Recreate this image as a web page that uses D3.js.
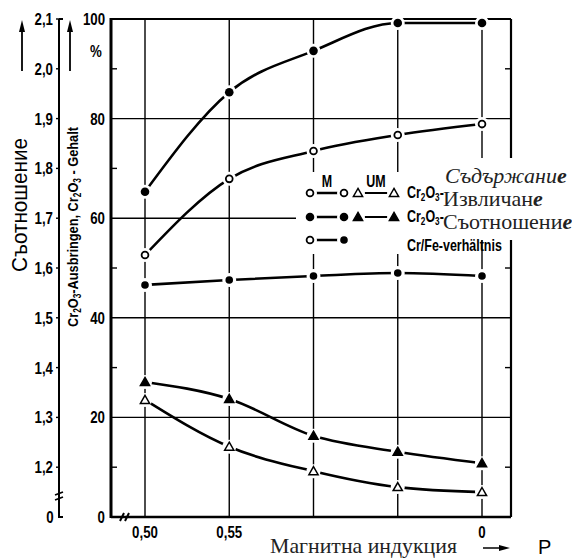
<!DOCTYPE html>
<html>
<head>
<meta charset="utf-8">
<script src="https://cdn.jsdelivr.net/npm/d3@7/dist/d3.min.js"></script>
<style>
  html, body { margin: 0; padding: 0; background: #fff; }
  svg { display: block; }
</style>
</head>
<body>
<svg id="chart" width="572" height="558"></svg>
<script>
// ---- data ----
const xLabels = ["0,50", "0,55", "", "", "0"];
const pctTicks = [0, 20, 40, 60, 80, 100];
const pctMinor = [10, 30, 50, 70, 90];
const ratioTicks = [1.2, 1.3, 1.4, 1.5, 1.6, 1.7, 1.8, 1.9, 2.0, 2.1];
const gehaltM = [52.6, 67.9, 73.5, 76.7, 78.9];        // open circles (%)
const ausbringenM = [65.3, 85.3, 93.6, 99.2, 99.2];    // filled circles (%)
const ratioCrFe = [1.566, 1.576, 1.584, 1.590, 1.584]; // Cr/Fe ratio
const ausbringenUM = [27.1, 23.7, 16.3, 13.1, 10.8];   // filled triangles (%)
const gehaltUM = [23.5, 14.1, 9.2, 6.0, 5.0];          // open triangles (%)

const svg = d3.select("#chart");
const L = 111, R = 511, T = 19, B = 517;
const x = d3.scaleLinear().domain([0, 4]).range([145, 482]);
const y = d3.scaleLinear().domain([0, 100]).range([B, T]);
const yr = d3.scaleLinear().domain([1.1, 2.1]).range([B, T]);
const idx = d3.range(xLabels.length);
const sansFont = "'Liberation Sans',Arial,sans-serif";
const serifFont = "'Liberation Serif','Times New Roman',serif";

// narrow bold text helper (condensed look via horizontal scale)
function ntext(sel, tx, ty, anchor, size) {
  return sel.append("text").attr("transform", `translate(${tx},${ty}) scale(0.78,1)`)
    .attr("text-anchor", anchor).attr("font-family", sansFont).attr("font-weight", "bold")
    .attr("font-size", size).attr("fill", "#000");
}
function crO(t, sub) {
  t.append("tspan").text("Cr");
  t.append("tspan").attr("font-size", sub).attr("dy", 3).text("2");
  t.append("tspan").attr("dy", -3).text("O");
  t.append("tspan").attr("font-size", sub).attr("dy", 3).text("3");
  return t.append("tspan").attr("dy", -3);
}

// grid
const g = svg.append("g").attr("stroke", "#000").attr("stroke-width", 1.4);
idx.forEach(i => g.append("line").attr("x1", x(i)).attr("x2", x(i)).attr("y1", T).attr("y2", B));
pctTicks.slice(1, 5).forEach(v => g.append("line").attr("x1", L).attr("x2", R).attr("y1", y(v)).attr("y2", y(v)));
pctMinor.forEach(v => {
  g.append("line").attr("x1", L).attr("x2", L + 6).attr("y1", y(v)).attr("y2", y(v));
  g.append("line").attr("x1", R - 6).attr("x2", R).attr("y1", y(v)).attr("y2", y(v));
});

// curves
const line = d3.line().x((d, i) => x(i)).y(d => d).curve(d3.curveMonotoneX);
const series = [
  { vals: ausbringenM.map(v => y(v)), type: "cf" },
  { vals: gehaltM.map(v => y(v)), type: "co" },
  { vals: ratioCrFe.map(v => yr(v)), type: "cs" },
  { vals: ausbringenUM.map(v => y(v)), type: "tf" },
  { vals: gehaltUM.map(v => y(v)), type: "to" }
];
series.forEach(s => {
  svg.append("path").attr("d", line(s.vals)).attr("fill", "none")
    .attr("stroke", "#000").attr("stroke-width", 2.6);
});

// white masks for legend + overlay text
svg.append("rect").attr("x", 296).attr("y", 172).attr("width", 150).attr("height", 82).attr("fill", "#fff");
svg.append("rect").attr("x", 441).attr("y", 158).attr("width", 131).attr("height", 82).attr("fill", "#fff");

// frame
const f = svg.append("g").attr("fill", "none").attr("stroke", "#000");
f.append("line").attr("x1", L).attr("x2", R).attr("y1", T).attr("y2", T).attr("stroke-width", 2.2);
f.append("line").attr("x1", L).attr("x2", L).attr("y1", T - 1).attr("y2", B + 1).attr("stroke-width", 3);
f.append("line").attr("x1", L).attr("x2", R).attr("y1", B).attr("y2", B).attr("stroke-width", 2.4);
f.append("line").attr("x1", R).attr("x2", R).attr("y1", T).attr("y2", 158).attr("stroke-width", 2.2);
f.append("line").attr("x1", R).attr("x2", R).attr("y1", 240).attr("y2", B).attr("stroke-width", 2.2);
f.append("path").attr("d", `M${L + 9},${B + 4} l4,-8 M${L + 14},${B + 4} l4,-8`).attr("stroke-width", 2);

// markers
function marker(sel, type, cx, cy) {
  sel.append("circle").attr("cx", cx).attr("cy", cy).attr("r", 7).attr("fill", "#fff");
  if (type === "cf") sel.append("circle").attr("cx", cx).attr("cy", cy).attr("r", 4.3).attr("fill", "#000");
  if (type === "cs") sel.append("circle").attr("cx", cx).attr("cy", cy).attr("r", 3.8).attr("fill", "#000");
  if (type === "co") sel.append("circle").attr("cx", cx).attr("cy", cy).attr("r", 3.4).attr("fill", "#fff").attr("stroke", "#000").attr("stroke-width", 1.8);
  if (type === "tf" || type === "to") {
    const s = 4.6;
    sel.append("path").attr("d", `M${cx},${cy - s} L${cx + s},${cy + s * 0.75} L${cx - s},${cy + s * 0.75} Z`)
      .attr("fill", type === "tf" ? "#000" : "#fff").attr("stroke", "#000").attr("stroke-width", 1.5);
  }
}
const mk = svg.append("g");
series.forEach(s => s.vals.forEach((v, i) => marker(mk, s.type, x(i), v)));

// % axis labels
const tx = svg.append("g");
pctTicks.forEach(v => ntext(tx, 105, y(v) + 6, "end", 17).text(v));
ntext(tx, 96, 57, "middle", 17).text("%");

// ratio axis
const ra = svg.append("g").attr("stroke", "#000").attr("fill", "none");
ra.append("path").attr("d", `M59,${yr(2.1)} L63,${yr(2.1)} M59,${yr(2.1)} L59,${B} L63,${B}`).attr("stroke-width", 2);
ratioTicks.forEach(v => ra.append("line").attr("x1", 56).attr("x2", 59).attr("y1", yr(v)).attr("y2", yr(v)).attr("stroke-width", 1.4));
ra.append("path").attr("d", "M55,495 l8,-3 M55,500 l8,-3").attr("stroke-width", 1.8);
ratioTicks.forEach(v => ntext(tx, 53, yr(v) + 6, "end", 17).text(d3.format(".1f")(v).replace(".", ",")));
ntext(tx, 50, B + 6, "middle", 17).text("0");

// x tick labels
idx.forEach(i => { if (xLabels[i]) ntext(tx, x(i), 538, "middle", 17).text(xLabels[i]); });

// arrows on left
const ar = svg.append("g");
[22, 70].forEach(ax => {
  ar.append("line").attr("x1", ax).attr("x2", ax).attr("y1", 71).attr("y2", 30).attr("stroke", "#000").attr("stroke-width", 1.8);
  ar.append("path").attr("d", `M${ax},20 L${ax + 3},32 L${ax - 3},32 Z`).attr("fill", "#000");
});

// rotated titles
svg.append("text").attr("transform", "translate(27,205) rotate(-90)").attr("text-anchor", "middle")
  .attr("font-family", sansFont).attr("font-size", 22)
  .attr("textLength", 134).attr("lengthAdjust", "spacingAndGlyphs").text("Съотношение");
const t2 = svg.append("text").attr("transform", "translate(78,327) rotate(-90)").attr("text-anchor", "start")
  .attr("font-family", sansFont).attr("font-weight", "bold").attr("font-size", 15.5)
  .attr("textLength", 200).attr("lengthAdjust", "spacingAndGlyphs");
crO(t2, 10).text("-Ausbringen, Cr");
t2.append("tspan").attr("font-size", 10).attr("dy", 3).text("2");
t2.append("tspan").attr("dy", -3).text("O");
t2.append("tspan").attr("font-size", 10).attr("dy", 3).text("3");
t2.append("tspan").attr("dy", -3).text(" - Gehalt");

// legend
const lg = svg.append("g");
ntext(lg, 327, 187, "middle", 16).text("M");
ntext(lg, 376, 187, "middle", 16).text("UM");
const rows = [
  { y: 193, ty: 198, c: ["co", "co"], t: "to", label: null },
  { y: 217, ty: 222, c: ["cf", "cf"], t: "tf", label: null },
  { y: 240, ty: 251, c: ["co", "cs"], t: null, label: "Cr/Fe-verhältnis" }
];
rows.forEach(r => {
  lg.append("line").attr("x1", 310).attr("x2", 344).attr("y1", r.y).attr("y2", r.y).attr("stroke", "#000").attr("stroke-width", 2.4);
  marker(lg, r.c[0], 310, r.y);
  marker(lg, r.c[1], 344, r.y);
  if (r.t) {
    lg.append("line").attr("x1", 358).attr("x2", 394).attr("y1", r.y).attr("y2", r.y).attr("stroke", "#000").attr("stroke-width", 1.8);
    marker(lg, r.t, 358, r.y);
    marker(lg, r.t, 394, r.y);
  }
  const t = ntext(lg, 407, r.ty, "start", 16);
  if (r.label) t.text(r.label);
  else crO(t, 10.5).text("-");
});

// overlay labels (Bulgarian)
const ov = svg.append("g").attr("font-family", serifFont).attr("font-size", 22).attr("fill", "#222");
const o1 = ov.append("text").attr("x", 445).attr("y", 183).attr("font-style", "italic");
o1.append("tspan").text("Съдържани");
o1.append("tspan").attr("font-weight", "bold").text("е");
const o2 = ov.append("text").attr("x", 443).attr("y", 206);
o2.append("tspan").text("Извличан");
o2.append("tspan").attr("font-weight", "bold").attr("font-style", "italic").text("е");
const o3 = ov.append("text").attr("x", 443).attr("y", 229);
o3.append("tspan").text("Съотношени");
o3.append("tspan").attr("font-weight", "bold").attr("font-style", "italic").text("е");

// x title
svg.append("text").attr("x", 270).attr("y", 553).attr("font-family", serifFont)
  .attr("font-size", 21).attr("fill", "#222").attr("textLength", 187).attr("lengthAdjust", "spacingAndGlyphs")
  .text("Магнитна индукция");
svg.append("line").attr("x1", 483).attr("x2", 500).attr("y1", 548).attr("y2", 548).attr("stroke", "#000").attr("stroke-width", 1.5);
svg.append("path").attr("d", "M510,548 L499,545 L499,551 Z").attr("fill", "#000");
svg.append("text").attr("x", 538).attr("y", 554).attr("font-family", sansFont)
  .attr("font-size", 20).text("P");
</script>
</body>
</html>
